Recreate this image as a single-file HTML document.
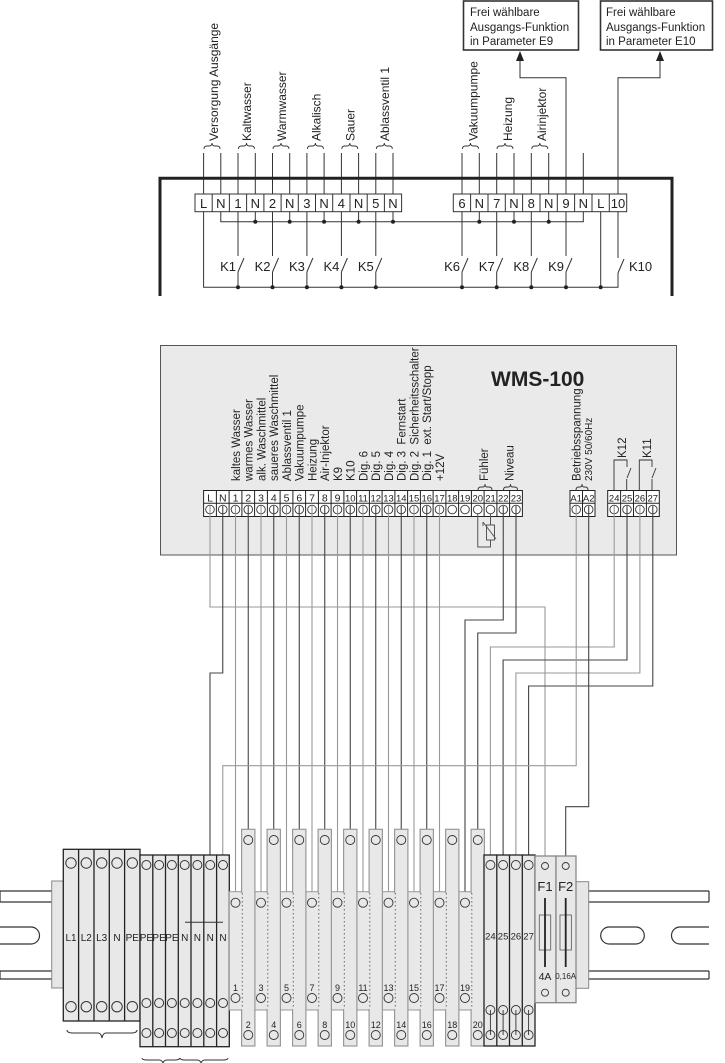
<!DOCTYPE html>
<html><head><meta charset="utf-8"><style>
html,body{margin:0;padding:0;background:#fff}
svg{display:block}
text{font-family:"Liberation Sans",sans-serif;fill:#222}
</style></head><body>
<svg width="725" height="1063" viewBox="0 0 725 1063" xmlns="http://www.w3.org/2000/svg">
<g fill="none" stroke="#333" stroke-width="1.6">
<rect x="463.5" y="1" width="115" height="49"/>
<rect x="600.5" y="1" width="112" height="49"/>
</g>
<g font-size="11.5">
<text x="470" y="16">Frei wählbare</text><text x="470" y="31">Ausgangs-Funktion</text><text x="470" y="45">in Parameter E9</text>
<text x="606" y="16">Frei wählbare</text><text x="606" y="31">Ausgangs-Funktion</text><text x="606" y="45">in Parameter E10</text>
</g>
<g fill="none" stroke="#333" stroke-width="1">
<path d="M566 194 V77.7 H520 V58"/>
<path d="M618 194 V77.7 H660 V58"/>
</g>
<path d="M520 51 L516 61 L524 61 Z M660 51 L656 61 L664 61 Z" fill="#222"/>
<g stroke="#333" stroke-width="1">
<path d="M203.6 153V194M220.8 153V194M238 153V194M255.3 153V194M272.5 153V194M289.7 153V194M306.9 153V194M324.1 153V194M341.4 153V194M358.6 153V194M375.8 153V194M393 153V194M462 153V194M479.3 153V194M496.7 153V194M514 153V194M531.3 153V194M548.7 153V194M583.3 153V194"/>
</g>
<g fill="none" stroke="#333" stroke-width="0.9">
<path d="M204 149q0-3 3-3h2q3 0 3-3q0 3 3 3h2q3 0 3 3"/>
<path d="M238.5 149q0-3 3-3h2q3 0 3-3q0 3 3 3h2q3 0 3 3"/>
<path d="M273 149q0-3 3-3h2q3 0 3-3q0 3 3 3h2q3 0 3 3"/>
<path d="M307.4 149q0-3 3-3h2q3 0 3-3q0 3 3 3h2q3 0 3 3"/>
<path d="M341.8 149q0-3 3-3h2q3 0 3-3q0 3 3 3h2q3 0 3 3"/>
<path d="M376.3 149q0-3 3-3h2q3 0 3-3q0 3 3 3h2q3 0 3 3"/>
<path d="M462.5 149q0-3 3-3h2q3 0 3-3q0 3 3 3h2q3 0 3 3"/>
<path d="M497 149q0-3 3-3h2q3 0 3-3q0 3 3 3h2q3 0 3 3"/>
<path d="M531.8 149q0-3 3-3h2q3 0 3-3q0 3 3 3h2q3 0 3 3"/>
</g>
<g font-size="12">
<text transform="translate(218,141) rotate(-90)">Versorgung Ausgänge</text>
<text transform="translate(251,141) rotate(-90)">Kaltwasser</text>
<text transform="translate(286,141) rotate(-90)">Warmwasser</text>
<text transform="translate(320.5,141) rotate(-90)">Alkalisch</text>
<text transform="translate(354.5,141) rotate(-90)">Sauer</text>
<text transform="translate(389,141) rotate(-90)">Ablassventil 1</text>
<text transform="translate(477.5,141) rotate(-90)">Vakuumpumpe</text>
<text transform="translate(512,141) rotate(-90)">Heizung</text>
<text transform="translate(546,141) rotate(-90)">Airinjektor</text>
</g>
<path d="M160 296 V178.3 H672 V296" fill="none" stroke="#222" stroke-width="3"/>
<g fill="#fff" stroke="#333" stroke-width="1">
<rect x="195" y="194" width="206.6" height="17.7"/>
<rect x="453.3" y="194" width="173.4" height="17.7"/>
<path d="M212.2 194v17.7M229.4 194v17.7M246.6 194v17.7M263.9 194v17.7M281.1 194v17.7M298.3 194v17.7M315.5 194v17.7M332.7 194v17.7M350 194v17.7M367.2 194v17.7M384.4 194v17.7"/>
<path d="M470.6 194v17.7M488 194v17.7M505.3 194v17.7M522.6 194v17.7M540 194v17.7M557.3 194v17.7M574.6 194v17.7M592 194v17.7M609.3 194v17.7"/>
</g>
<g font-size="13" text-anchor="middle">
<text x="203.6" y="208">L</text><text x="220.8" y="208">N</text><text x="238" y="208">1</text><text x="255.3" y="208">N</text><text x="272.5" y="208">2</text><text x="289.7" y="208">N</text><text x="306.9" y="208">3</text><text x="324.1" y="208">N</text><text x="341.4" y="208">4</text><text x="358.6" y="208">N</text><text x="375.8" y="208">5</text><text x="393" y="208">N</text>
<text x="462" y="208">6</text><text x="479.3" y="208">N</text><text x="496.7" y="208">7</text><text x="514" y="208">N</text><text x="531.3" y="208">8</text><text x="548.7" y="208">N</text><text x="566" y="208">9</text><text x="583.3" y="208">N</text><text x="600.7" y="208">L</text><text x="618" y="208">10</text>
</g>
<g fill="none" stroke="#333" stroke-width="1">
<path d="M220.8 211.7V221.7H583.3V211.7"/>
<path d="M255.3 211.7V221.7M289.7 211.7V221.7M324.1 211.7V221.7M358.6 211.7V221.7M393 211.7V221.7M479.3 211.7V221.7M514 211.7V221.7M548.7 211.7V221.7"/>
<path d="M203.6 211.7V287.3H618V273"/>
<path d="M600.7 211.7V287.3"/>
<path d="M238 211.7V256M238 272V287.3M238 272L244 258"/>
<path d="M272.5 211.7V256M272.5 272V287.3M272.5 272L278.5 258"/>
<path d="M306.9 211.7V256M306.9 272V287.3M306.9 272L312.9 258"/>
<path d="M341.4 211.7V256M341.4 272V287.3M341.4 272L347.4 258"/>
<path d="M375.8 211.7V256M375.8 272V287.3M375.8 272L381.8 258"/>
<path d="M462 211.7V256M462 272V287.3M462 272L468 258"/>
<path d="M496.7 211.7V256M496.7 272V287.3M496.7 272L502.7 258"/>
<path d="M531.3 211.7V256M531.3 272V287.3M531.3 272L537.3 258"/>
<path d="M566 211.7V256M566 272V287.3M566 272L572 258"/>
<path d="M618 211.7V258M618 273L624 259"/>
</g>
<g fill="#222">
<circle cx="255.3" cy="221.7" r="2"/><circle cx="289.7" cy="221.7" r="2"/><circle cx="324.1" cy="221.7" r="2"/><circle cx="358.6" cy="221.7" r="2"/><circle cx="393" cy="221.7" r="2"/><circle cx="479.3" cy="221.7" r="2"/><circle cx="514" cy="221.7" r="2"/><circle cx="548.7" cy="221.7" r="2"/>
<circle cx="238" cy="287.3" r="2"/><circle cx="272.5" cy="287.3" r="2"/><circle cx="306.9" cy="287.3" r="2"/><circle cx="341.4" cy="287.3" r="2"/><circle cx="375.8" cy="287.3" r="2"/><circle cx="462" cy="287.3" r="2"/><circle cx="496.7" cy="287.3" r="2"/><circle cx="531.3" cy="287.3" r="2"/><circle cx="566" cy="287.3" r="2"/><circle cx="600.7" cy="287.3" r="2"/>
</g>
<g font-size="13" text-anchor="end">
<text x="236" y="271">K1</text><text x="270.5" y="271">K2</text><text x="304.9" y="271">K3</text><text x="339.4" y="271">K4</text><text x="373.8" y="271">K5</text>
<text x="460" y="271">K6</text><text x="494.7" y="271">K7</text><text x="529.3" y="271">K8</text><text x="564" y="271">K9</text>
</g>
<text x="629" y="271" font-size="13">K10</text>

<rect x="160.5" y="345.5" width="516" height="209.5" fill="#e9eae9" stroke="#555" stroke-width="1"/>
<text x="491" y="386" font-size="21" font-weight="bold">WMS-100</text>
<g font-size="11.5">
<text transform="translate(240,481) rotate(-90)">kaltes Wasser</text>
<text transform="translate(252.7,481) rotate(-90)">warmes Wasser</text>
<text transform="translate(265.4,481) rotate(-90)">alk. Waschmittel</text>
<text transform="translate(278.2,481) rotate(-90)">saueres Waschmittel</text>
<text transform="translate(290.9,481) rotate(-90)">Ablassventil 1</text>
<text transform="translate(303.7,481) rotate(-90)">Vakuumpumpe</text>
<text transform="translate(316.4,481) rotate(-90)">Heizung</text>
<text transform="translate(329.2,481) rotate(-90)">Air-Injektor</text>
<text transform="translate(341.9,481) rotate(-90)">K9</text>
<text transform="translate(354.7,481) rotate(-90)">K10</text>
<text transform="translate(367.4,481) rotate(-90)">Dig. 6</text>
<text transform="translate(380.2,481) rotate(-90)">Dig. 5</text>
<text transform="translate(392.9,481) rotate(-90)">Dig. 4</text>
<text transform="translate(405.7,481) rotate(-90)" xml:space="preserve">Dig. 3  Fernstart</text>
<text transform="translate(418.4,481) rotate(-90)" xml:space="preserve">Dig. 2  Sicherheitsschalter</text>
<text transform="translate(431.2,481) rotate(-90)" xml:space="preserve">Dig. 1  ext. Start/Stopp</text>
<text transform="translate(443.9,481) rotate(-90)">+12V</text>
<text transform="translate(488,481) rotate(-90)">Fühler</text>
<text transform="translate(513.5,481) rotate(-90)">Niveau</text>
<text transform="translate(580.5,481) rotate(-90)">Betriebsspannung</text>
<text transform="translate(626,458) rotate(-90)">K12</text>
<text transform="translate(651,458) rotate(-90)">K11</text>
</g>
<text transform="translate(592,481) rotate(-90)" font-size="10">230V 50/60Hz</text>
<g fill="none" stroke="#333" stroke-width="0.9">
<path d="M478 490q0-3 3-3h2q2 0 2-3q0 3 2 3h2q3 0 3 3"/>
<path d="M503.5 490q0-3 3-3h2q2 0 2-3q0 3 2 3h2q3 0 3 3"/>
<path d="M576 490q0-3 3-3h1q2 0 2-3q0 3 2 3h1q3 0 3 3"/>
<path d="M614 491V460H627V467M627 478L631 468M626.7 491V479"/>
<path d="M639.3 491V460H652V467M652 478L656 468M652 491V479"/>
</g>
<g fill="#fff" stroke="#222" stroke-width="1">
<rect x="203.6" y="490.5" width="318.8" height="26"/>
<rect x="570" y="490.5" width="25" height="26"/>
<rect x="607.7" y="490.5" width="51.6" height="26"/>
<path d="M203.6 503.2H522.4M570 503.2H595M607.7 503.2H659.3"/>
<path d="M216.4 490.5v26M229.1 490.5v26M241.9 490.5v26M254.6 490.5v26M267.4 490.5v26M280.1 490.5v26M292.9 490.5v26M305.6 490.5v26M318.4 490.5v26M331.1 490.5v26M343.9 490.5v26M356.6 490.5v26M369.4 490.5v26M382.1 490.5v26M394.9 490.5v26M407.6 490.5v26M420.4 490.5v26M433.1 490.5v26M445.9 490.5v26M458.6 490.5v26M471.4 490.5v26M484.1 490.5v26M496.9 490.5v26M509.6 490.5v26"/>
<path d="M582.5 490.5v26M620.6 490.5v26M633.5 490.5v26M646.4 490.5v26"/>
</g>
<g font-size="10.5" text-anchor="middle">
<text x="210" y="501.5">L</text><text x="222.75" y="501.5">N</text><text x="235.5" y="501.5">1</text><text x="248.25" y="501.5">2</text><text x="261" y="501.5">3</text><text x="273.75" y="501.5">4</text><text x="286.5" y="501.5">5</text><text x="299.25" y="501.5">6</text><text x="312" y="501.5">7</text><text x="324.75" y="501.5">8</text><text x="337.5" y="501.5">9</text>
</g>
<g font-size="9.5" text-anchor="middle">
<text x="350.25" y="501.5">10</text><text x="363" y="501.5">11</text><text x="375.75" y="501.5">12</text><text x="388.5" y="501.5">13</text><text x="401.25" y="501.5">14</text><text x="414" y="501.5">15</text><text x="426.75" y="501.5">16</text><text x="439.5" y="501.5">17</text><text x="452.25" y="501.5">18</text><text x="465" y="501.5">19</text><text x="477.75" y="501.5">20</text><text x="490.5" y="501.5">21</text><text x="503.25" y="501.5">22</text><text x="516" y="501.5">23</text>
<text x="576.2" y="501.5">A1</text><text x="588.7" y="501.5">A2</text><text x="614.2" y="501.5">24</text><text x="627" y="501.5">25</text><text x="639.9" y="501.5">26</text><text x="652.8" y="501.5">27</text>
</g>
<g fill="none" stroke="#333" stroke-width="0.9">
<circle cx="210" cy="509.5" r="4.3"/><circle cx="222.75" cy="509.5" r="4.3"/><circle cx="235.5" cy="509.5" r="4.3"/><circle cx="248.25" cy="509.5" r="4.3"/><circle cx="261" cy="509.5" r="4.3"/><circle cx="273.75" cy="509.5" r="4.3"/><circle cx="286.5" cy="509.5" r="4.3"/><circle cx="299.25" cy="509.5" r="4.3"/><circle cx="312" cy="509.5" r="4.3"/><circle cx="324.75" cy="509.5" r="4.3"/><circle cx="337.5" cy="509.5" r="4.3"/><circle cx="350.25" cy="509.5" r="4.3"/><circle cx="363" cy="509.5" r="4.3"/><circle cx="375.75" cy="509.5" r="4.3"/><circle cx="388.5" cy="509.5" r="4.3"/><circle cx="401.25" cy="509.5" r="4.3"/><circle cx="414" cy="509.5" r="4.3"/><circle cx="426.75" cy="509.5" r="4.3"/><circle cx="439.5" cy="509.5" r="4.3"/><circle cx="452.25" cy="509.5" r="4.3"/><circle cx="465" cy="509.5" r="4.3"/><circle cx="477.75" cy="509.5" r="4.3"/><circle cx="490.5" cy="509.5" r="4.3"/><circle cx="503.25" cy="509.5" r="4.3"/><circle cx="516" cy="509.5" r="4.3"/>
<circle cx="576.2" cy="509.5" r="4.3"/><circle cx="588.7" cy="509.5" r="4.3"/><circle cx="614.2" cy="509.5" r="4.3"/><circle cx="627" cy="509.5" r="4.3"/><circle cx="639.9" cy="509.5" r="4.3"/><circle cx="652.8" cy="509.5" r="4.3"/>
</g>
<g fill="none" stroke="#555" stroke-width="1">
<path d="M477.75 514V547H490.5V540M490.5 514V525"/>
<rect x="486.5" y="525" width="8" height="15"/>
<path d="M483 522L496 539M483 522v4"/>
</g>
<g fill="none" stroke-width="1.1">
<path stroke="#999" d="M210 506V607H545V861"/>
<path stroke="#444" d="M222.75 506V673H210V860"/>
<path stroke="#999" d="M235.5 506V898"/>
<path stroke="#444" d="M248.25 506V835"/>
<path stroke="#999" d="M261 506V898"/>
<path stroke="#444" d="M273.75 506V835"/>
<path stroke="#999" d="M286.5 506V898"/>
<path stroke="#444" d="M299.25 506V835"/>
<path stroke="#999" d="M312 506V898"/>
<path stroke="#444" d="M324.75 506V835"/>
<path stroke="#999" d="M337.5 506V898"/>
<path stroke="#444" d="M350.25 506V835"/>
<path stroke="#999" d="M363 506V898"/>
<path stroke="#444" d="M375.75 506V835"/>
<path stroke="#999" d="M388.5 506V898"/>
<path stroke="#444" d="M401.25 506V835"/>
<path stroke="#999" d="M414 506V898"/>
<path stroke="#444" d="M426.75 506V835"/>
<path stroke="#999" d="M439.5 506V898"/>
<path stroke="#444" d="M503.25 506V620H465V898"/>
<path stroke="#444" d="M516 506V633H477.75V835"/>
<path stroke="#999" d="M614.2 506V647H490.4V860"/>
<path stroke="#444" d="M627 506V660H503.1V860"/>
<path stroke="#999" d="M639.9 506V673H515.9V860"/>
<path stroke="#444" d="M652.8 506V686H528.6V860"/>
<path stroke="#999" d="M576.2 506V765.7H222.75V860"/>
<path stroke="#444" d="M588.7 506V806.7H565.7V861"/>
</g>
<g fill="#fff" stroke="#333" stroke-width="1.2">
<path d="M0 891H52M0 902H52M0 971H52M0 979H52" />
<path d="M0 927H31a8.5 8.5 0 0 1 0 17H0" fill="none"/>
<path d="M0 891V902M0 971V979" />
<path d="M588 891H709M588 902H709M588 971H709M588 979H709M709 891V902M709 971V979"/>
<rect x="600.7" y="927" width="43.6" height="17" rx="8.5" fill="none"/>
<path d="M709 927H680a8.5 8.5 0 0 0 0 17H709" fill="none"/>
</g>
<rect x="51.7" y="881" width="11.6" height="107" fill="#e6e6e6" stroke="#888"/>
<rect x="576" y="881.7" width="12.7" height="106.6" fill="#e6e6e6" stroke="#888"/>
<g fill="#e8e8e8" stroke="#222" stroke-width="1.3">
<rect x="63.3" y="849.3" width="76.7" height="171.7"/>
<path d="M78.6 849.3v171.7M94 849.3v171.7M109.3 849.3v171.7M124.6 849.3v171.7" fill="none"/>
<rect x="140" y="855" width="89.3" height="191.7"/>
<path d="M152.8 855v191.7M165.5 855v191.7M178.3 855v191.7M191 855v191.7M203.8 855v191.7M216.6 855v191.7" fill="none"/>
</g>
<g fill="none" stroke="#333" stroke-width="1">
<circle cx="71" cy="863" r="5.2"/><circle cx="86.3" cy="863" r="5.2"/><circle cx="101.7" cy="863" r="5.2"/><circle cx="117" cy="863" r="5.2"/><circle cx="132.3" cy="863" r="5.2"/>
<circle cx="71" cy="1006.7" r="5.2"/><circle cx="86.3" cy="1006.7" r="5.2"/><circle cx="101.7" cy="1006.7" r="5.2"/><circle cx="117" cy="1006.7" r="5.2"/><circle cx="132.3" cy="1006.7" r="5.2"/>
<circle cx="146.4" cy="865" r="4.5"/><circle cx="159.1" cy="865" r="4.5"/><circle cx="171.9" cy="865" r="4.5"/><circle cx="184.7" cy="865" r="4.5"/><circle cx="197.4" cy="865" r="4.5"/><circle cx="210.2" cy="865" r="4.5"/><circle cx="223" cy="865" r="4.5"/>
<circle cx="146.4" cy="1003" r="4.5"/><circle cx="159.1" cy="1003" r="4.5"/><circle cx="171.9" cy="1003" r="4.5"/><circle cx="184.7" cy="1003" r="4.5"/><circle cx="197.4" cy="1003" r="4.5"/><circle cx="210.2" cy="1003" r="4.5"/><circle cx="223" cy="1003" r="4.5"/>
<circle cx="146.4" cy="1033" r="4.5"/><circle cx="159.1" cy="1033" r="4.5"/><circle cx="171.9" cy="1033" r="4.5"/><circle cx="184.7" cy="1033" r="4.5"/><circle cx="197.4" cy="1033" r="4.5"/><circle cx="210.2" cy="1033" r="4.5"/><circle cx="223" cy="1033" r="4.5"/>
<path d="M185 922.3H223"/>
<path d="M67 1030q0 3 6 3h25q3 0 4 5q1-5 4-5h25q6 0 6-3"/>
<path d="M142 1058q0 2 5 2h12q3 0 4 3q1-3 4-3h8q4 0 5-2"/>
<path d="M180 1058q0 2 5 2h12q3 0 4 3q1-3 4-3h18q5 0 5-2"/>
</g>
<g font-size="10" text-anchor="middle">
<text x="71" y="941">L1</text><text x="86.3" y="941">L2</text><text x="101.7" y="941">L3</text><text x="117" y="941">N</text><text x="132.3" y="941">PE</text>
<text x="146.4" y="941">PE</text><text x="159.1" y="941">PE</text><text x="171.9" y="941">PE</text><text x="184.7" y="941">N</text><text x="197.4" y="941">N</text><text x="210.2" y="941">N</text><text x="223" y="941">N</text>
</g>
<rect x="229.3" y="891.7" width="254.7" height="118.3" fill="#e8e8e8" stroke="#999" stroke-width="1"/>
<g fill="#e8e8e8" stroke="#999" stroke-width="1.2">
<rect x="241.6" y="829.3" width="13.3" height="216.7"/>
<rect x="267.1" y="829.3" width="13.3" height="216.7"/>
<rect x="292.6" y="829.3" width="13.3" height="216.7"/>
<rect x="318.1" y="829.3" width="13.3" height="216.7"/>
<rect x="343.6" y="829.3" width="13.3" height="216.7"/>
<rect x="369.1" y="829.3" width="13.3" height="216.7"/>
<rect x="394.6" y="829.3" width="13.3" height="216.7"/>
<rect x="420.1" y="829.3" width="13.3" height="216.7"/>
<rect x="445.6" y="829.3" width="13.3" height="216.7"/>
<rect x="471.1" y="829.3" width="13.3" height="216.7"/>
</g>
<g stroke="#e8e8e8" stroke-width="2">
<path d="M241.6 893V1009M267.1 893V1009M292.6 893V1009M318.1 893V1009M343.6 893V1009M369.1 893V1009M394.6 893V1009M420.1 893V1009M445.6 893V1009M471.1 893V1009"/>
</g>
<g stroke="#666" stroke-width="1" stroke-dasharray="1.5 2.5">
<path d="M242.3 893V1009M267.8 893V1009M293.3 893V1009M318.8 893V1009M344.3 893V1009M369.8 893V1009M395.3 893V1009M420.8 893V1009M446.3 893V1009M471.8 893V1009"/>
</g>
<g fill="none" stroke="#333" stroke-width="0.9">
<circle cx="235.5" cy="902.7" r="4.5"/><circle cx="261" cy="902.7" r="4.5"/><circle cx="286.5" cy="902.7" r="4.5"/><circle cx="312" cy="902.7" r="4.5"/><circle cx="337.5" cy="902.7" r="4.5"/><circle cx="363" cy="902.7" r="4.5"/><circle cx="388.5" cy="902.7" r="4.5"/><circle cx="414" cy="902.7" r="4.5"/><circle cx="439.5" cy="902.7" r="4.5"/><circle cx="465" cy="902.7" r="4.5"/>
<circle cx="235.5" cy="998" r="4.5"/><circle cx="261" cy="998" r="4.5"/><circle cx="286.5" cy="998" r="4.5"/><circle cx="312" cy="998" r="4.5"/><circle cx="337.5" cy="998" r="4.5"/><circle cx="363" cy="998" r="4.5"/><circle cx="388.5" cy="998" r="4.5"/><circle cx="414" cy="998" r="4.5"/><circle cx="439.5" cy="998" r="4.5"/><circle cx="465" cy="998" r="4.5"/>
<circle cx="248.25" cy="840" r="4.5"/><circle cx="273.75" cy="840" r="4.5"/><circle cx="299.25" cy="840" r="4.5"/><circle cx="324.75" cy="840" r="4.5"/><circle cx="350.25" cy="840" r="4.5"/><circle cx="375.75" cy="840" r="4.5"/><circle cx="401.25" cy="840" r="4.5"/><circle cx="426.75" cy="840" r="4.5"/><circle cx="452.25" cy="840" r="4.5"/><circle cx="477.75" cy="840" r="4.5"/>
<circle cx="248.25" cy="1035" r="4.5"/><circle cx="273.75" cy="1035" r="4.5"/><circle cx="299.25" cy="1035" r="4.5"/><circle cx="324.75" cy="1035" r="4.5"/><circle cx="350.25" cy="1035" r="4.5"/><circle cx="375.75" cy="1035" r="4.5"/><circle cx="401.25" cy="1035" r="4.5"/><circle cx="426.75" cy="1035" r="4.5"/><circle cx="452.25" cy="1035" r="4.5"/><circle cx="477.75" cy="1035" r="4.5"/>
</g>
<g font-size="9" text-anchor="middle">
<text x="235.5" y="991">1</text><text x="261" y="991">3</text><text x="286.5" y="991">5</text><text x="312" y="991">7</text><text x="337.5" y="991">9</text><text x="363" y="991">11</text><text x="388.5" y="991">13</text><text x="414" y="991">15</text><text x="439.5" y="991">17</text><text x="465" y="991">19</text>
<text x="248.25" y="1028">2</text><text x="273.75" y="1028">4</text><text x="299.25" y="1028">6</text><text x="324.75" y="1028">8</text><text x="350.25" y="1028">10</text><text x="375.75" y="1028">12</text><text x="401.25" y="1028">14</text><text x="426.75" y="1028">16</text><text x="452.25" y="1028">18</text><text x="477.75" y="1028">20</text>
</g>
<g fill="#e8e8e8" stroke="#222" stroke-width="1.3">
<rect x="484" y="855" width="51" height="191"/>
<path d="M496.8 855v191M509.5 855v191M522.3 855v191" fill="none"/>
<rect x="535" y="856" width="21" height="146.7" stroke="#888"/>
<rect x="556" y="856" width="20" height="146.7" stroke="#888"/>
</g>
<g fill="none" stroke="#333" stroke-width="0.9">
<circle cx="490.4" cy="865" r="4.5"/><circle cx="503.1" cy="865" r="4.5"/><circle cx="515.9" cy="865" r="4.5"/><circle cx="528.6" cy="865" r="4.5"/>
<circle cx="490.4" cy="1010" r="4.5"/><circle cx="503.1" cy="1010" r="4.5"/><circle cx="515.9" cy="1010" r="4.5"/><circle cx="528.6" cy="1010" r="4.5"/>
<circle cx="490.4" cy="1035" r="4.5"/><circle cx="503.1" cy="1035" r="4.5"/><circle cx="515.9" cy="1035" r="4.5"/><circle cx="528.6" cy="1035" r="4.5"/>
<path d="M490.4 1010V1035M503.1 1010V1035M515.9 1010V1035M528.6 1010V1035"/>
<circle cx="545" cy="866" r="3.5"/><circle cx="565.7" cy="866" r="3.5"/>
<circle cx="545" cy="992.7" r="3.5"/><circle cx="565.7" cy="992.7" r="3.5"/>
<rect x="539.3" y="915" width="11.4" height="35" stroke="#666"/>
<rect x="560" y="915" width="11.4" height="35" stroke="#666"/>
</g>
<path d="M545 898V967M565.7 898V967" stroke="#222" stroke-width="1.8"/>
<g font-size="9.5" text-anchor="middle">
<text x="490.4" y="939.5">24</text><text x="503.1" y="939.5">25</text><text x="515.9" y="939.5">26</text><text x="528.6" y="939.5">27</text>
</g>
<text x="545" y="891" font-size="13" text-anchor="middle">F1</text>
<text x="565.7" y="891" font-size="13" text-anchor="middle">F2</text>
<text x="545" y="980" font-size="10.5" text-anchor="middle">4A</text>
<text x="565.7" y="979" font-size="8" text-anchor="middle">0,16A</text>
</svg>
</body></html>
